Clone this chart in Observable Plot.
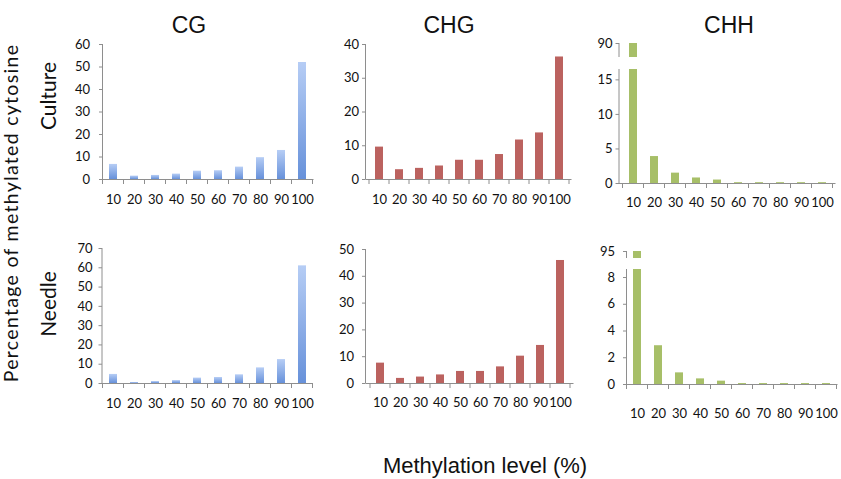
<!DOCTYPE html>
<html>
<head>
<meta charset="utf-8">
<script src="https://cdn.jsdelivr.net/npm/d3@7"></script>
<script src="https://cdn.jsdelivr.net/npm/@observablehq/plot@0.6"></script>
<style>
  html, body { margin: 0; padding: 0; background: #fff; }
  #wrap { position: relative; width: 841px; height: 479px; overflow: hidden; font-family: Lato, "Open Sans", sans-serif; color: #111; }
  #wrap svg { position: absolute; left: 0; top: 0; }
  .t { position: absolute; white-space: nowrap; line-height: 1; }
  .title { font-family: "Liberation Sans", Arial, sans-serif; font-size: 23px; transform: translate(-50%, 0); }
  .rot { transform: translate(-50%, -50%) rotate(-90deg); }
</style>
</head>
<body>
<div id="wrap"></div>
<script>
// ---- data ----
const levels = [10, 20, 30, 40, 50, 60, 70, 80, 90, 100];
const contexts = ["CG", "CHG", "CHH"];
const tissues = ["Culture", "Needle"];

const cgCulture  = [6.7, 1.5, 1.8, 2.4, 3.7, 3.9, 5.5, 9.7, 12.9, 52.0];
const chgCulture = [9.6, 2.9, 3.3, 4.0, 5.7, 5.7, 7.4, 11.7, 13.8, 36.3];
const chhCulture = [90.0, 3.9, 1.5, 0.8, 0.5, 0.12, 0.12, 0.12, 0.12, 0.12];
const cgNeedle   = [4.7, 0.5, 1.0, 1.5, 2.8, 3.1, 4.5, 8.1, 12.4, 61.0];
const chgNeedle  = [7.6, 1.9, 2.4, 3.2, 4.5, 4.5, 6.2, 10.2, 14.2, 45.9];
const chhNeedle  = [95.0, 2.9, 0.87, 0.42, 0.25, 0.07, 0.07, 0.07, 0.07, 0.07];

const ticksCgCulture  = [0, 10, 20, 30, 40, 50, 60];
const ticksChgCulture = [0, 10, 20, 30, 40];
const ticksChhCulture = [0, 5, 10, 15, 90];
const ticksCgNeedle   = [0, 10, 20, 30, 40, 50, 60, 70];
const ticksChgNeedle  = [0, 10, 20, 30, 40, 50];
const ticksChhNeedle  = [0, 2, 4, 6, 8, 95];

// broken-axis domains (value breakpoints) for CHH
const chhCultureBreak = [0, 16.5, 87, 90];
const chhNeedleBreak  = [0, 8.6, 93, 95];

// ---- layout / style ----
const W = 841, H = 479;
const colors = { CG: "url(#cgGrad)", CHG: "#bb625f", CHH: "#a7bf68" };
const axisGray = "#8e8e8e";

const panels = [
  { values: cgCulture,  ctx: "CG",  left: 102.5, right: 313.5, top: 44,  bottom: 179, ticks: ticksCgCulture,  ymax: 60, gap: 13, labelPad: 15 },
  { values: chgCulture, ctx: "CHG", left: 365.5, right: 571.5, top: 44,  bottom: 179, ticks: ticksChgCulture, ymax: 40, gap: 7,  labelPad: 15 },
  { values: chhCulture, ctx: "CHH", left: 619,   right: 835.5, top: 43,  bottom: 183, ticks: ticksChhCulture, brk: chhCultureBreak, brkRange: [183, 69, 57, 43], gap: 7, labelPad: 14 },
  { values: cgNeedle,   ctx: "CG",  left: 102,   right: 313,   top: 248, bottom: 383, ticks: ticksCgNeedle,   ymax: 70, gap: 10, labelPad: 15 },
  { values: chgNeedle,  ctx: "CHG", left: 365.5, right: 573.5, top: 249, bottom: 383, ticks: ticksChgNeedle,  ymax: 50, gap: 12, labelPad: 14.5 },
  { values: chhNeedle,  ctx: "CHH", left: 626.5, right: 837.5, top: 251, bottom: 384, ticks: ticksChhNeedle,  brk: chhNeedleBreak, brkRange: [384, 269, 258, 251], gap: 12, labelPad: 24 }
];

const wrap = document.getElementById("wrap");

function defsMark() {
  const svg = d3.create("svg:g");
  const defs = svg.append("defs");
  const g = defs.append("linearGradient").attr("id", "cgGrad").attr("x1", 0).attr("y1", 0).attr("x2", 0).attr("y2", 1);
  g.append("stop").attr("offset", "0%").attr("stop-color", "#b6cdf5");
  g.append("stop").attr("offset", "100%").attr("stop-color", "#6791da");
  return svg.node();
}

panels.forEach((p) => {
  const data = levels.map((l, i) => ({ level: String(l), value: p.values[i] }));
  const yScale = p.brk
    ? { type: "linear", domain: p.brk, range: p.brkRange }
    : { type: "linear", domain: [0, p.ymax] };
  const marks = [
    () => defsMark(),
    Plot.barY(data, { x: "level", y: "value", fill: colors[p.ctx] }),
  ];
  if (p.brk) {
    marks.push(Plot.rect([0], { y1: p.brk[1], y2: p.brk[2], fill: "white", insetLeft: -4, insetRight: -4 }));
  }
  marks.push(
    // x axis line
    Plot.ruleY([0], { stroke: axisGray }),
    // y axis line (left edge of frame), split at the break if any
    (index, scales, values, dims) => {
      const g = d3.create("svg:g").attr("stroke", axisGray);
      const x = dims.marginLeft;
      if (p.brk) {
        const y = scales.y;
        g.append("line").attr("x1", x).attr("x2", x).attr("y1", y(p.brk[0])).attr("y2", y(p.brk[1]));
        g.append("line").attr("x1", x).attr("x2", x).attr("y1", y(p.brk[2])).attr("y2", y(p.brk[3]));
      } else {
        g.append("line").attr("x1", x).attr("x2", x).attr("y1", dims.marginTop).attr("y2", dims.height - dims.marginBottom);
      }
      return g.node();
    },
    // category boundary ticks on the x axis
    (index, scales, values, dims) => {
      const x = scales.x;
      const n = levels.length;
      const st = typeof x.step === "function" ? x.step() : (dims.width - dims.marginLeft - dims.marginRight) / n;
      const bw = typeof x.bandwidth === "function" ? x.bandwidth() : 0;
      const y0 = dims.height - dims.marginBottom;
      const g = d3.create("svg:g").attr("stroke", axisGray);
      const bounds = levels.map((l) => x(String(l)) + bw / 2 - st / 2);
      bounds.push(x(String(levels[n - 1])) + bw / 2 + st / 2);
      bounds.forEach((bx) => g.append("line").attr("x1", bx).attr("x2", bx).attr("y1", y0).attr("y2", y0 + 5));
      return g.node();
    },
    // x tick labels
    Plot.axisX({ tickSize: 0, tickPadding: p.labelPad, fontSize: 13, color: "#111", label: null }),
    // y axis
    Plot.axisY({ ticks: p.ticks, tickSize: 3.5, tickPadding: p.gap - 3.5, stroke: axisGray, color: "#111", fontSize: 13, label: null })
  );
  const chart = Plot.plot({
    width: W,
    height: H,
    marginLeft: p.left,
    marginRight: W - p.right,
    marginTop: p.top,
    marginBottom: H - p.bottom,
    style: { background: "transparent", overflow: "visible", fontFamily: "Lato, 'Open Sans', sans-serif" },
    x: { type: "band", domain: levels.map(String), paddingInner: 0.6, paddingOuter: 0.3, axis: null },
    y: { ...yScale, axis: null },
    marks
  });
  wrap.appendChild(chart);
});

// ---- text labels ----
function addText(text, cls, style) {
  const d = document.createElement("div");
  d.className = "t " + cls;
  d.textContent = text;
  Object.assign(d.style, style);
  wrap.appendChild(d);
}
const titleX = [189, 449, 729];
contexts.forEach((c, i) => addText(c, "title", { left: titleX[i] + "px", top: "13.5px" }));
addText(tissues[0], "rot", { left: "47px", top: "96px", fontSize: "21px" });
addText(tissues[1], "rot", { left: "47px", top: "304px", fontSize: "21px" });
addText("Percentage of methylated cytosine", "rot", { left: "11px", top: "213px", fontSize: "19.5px", letterSpacing: "1.3px" });
addText("Methylation level (%)", "", { left: "485px", top: "454.5px", fontSize: "22px", fontFamily: "'Liberation Sans', Arial, sans-serif", transform: "translate(-50%,0)" });
</script>
</body>
</html>
